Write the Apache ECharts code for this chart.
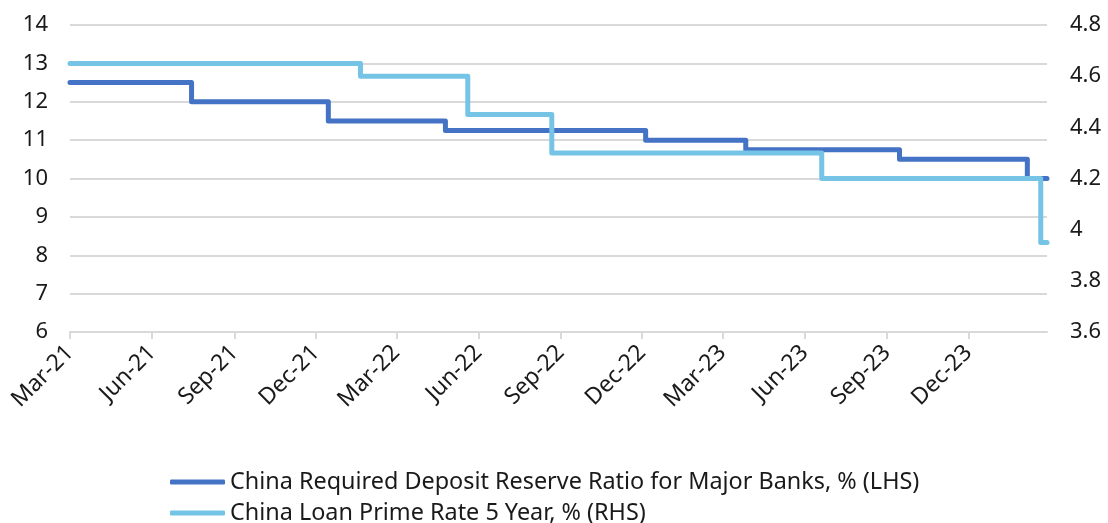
<!DOCTYPE html>
<html>
<head>
<meta charset="utf-8">
<script src="https://cdn.jsdelivr.net/npm/echarts@6/dist/echarts.min.js"></script>
<style>
html,body{margin:0;padding:0;background:#fff;}
#chart{width:1108px;height:523px;}
</style>
</head>
<body>
<div id="chart"></div>
<script>
// ---- Data ----
const rrrDates   = ['2021-03-01','2021-07-15','2021-12-15','2022-04-25','2022-12-05','2023-03-27','2023-09-15','2024-02-05','2024-02-27'];
const rrrValues  = [12.5, 12.0, 11.5, 11.25, 11.0, 10.75, 10.5, 10.0, 10.0];
const lprDates   = ['2021-03-01','2022-01-20','2022-05-20','2022-08-22','2023-06-20','2024-02-20','2024-02-27'];
const lprValues  = [4.65, 4.60, 4.45, 4.30, 4.20, 3.95, 3.95];
const tickDates  = ['2021-03-01','2021-06-01','2021-09-01','2021-12-01','2022-03-01','2022-06-01','2022-09-01','2022-12-01','2023-03-01','2023-06-01','2023-09-01','2023-12-01'];
const tickLabels = ['Mar-21','Jun-21','Sep-21','Dec-21','Mar-22','Jun-22','Sep-22','Dec-22','Mar-23','Jun-23','Sep-23','Dec-23'];
const seriesNames = ['China Required Deposit Reserve Ratio for Major Banks, % (LHS)', 'China Loan Prime Rate 5 Year, % (RHS)'];
const xStart = '2021-03-01';
const xEnd   = '2024-02-27';

// day number since epoch (UTC, timezone-independent)
function dn(s){ const p = s.split('-').map(Number); return Date.UTC(p[0], p[1]-1, p[2]) / 86400000; }
const tickDn = tickDates.map(dn);
const font = 'Noto Sans';
const textColor = '#1a1a1a';
const gridColor = '#d9d9d9';
const colors = ['#4472c4', '#75c4e6'];

function legendFor(i, top){
  return {
    orient: 'horizontal', left: 170, top: top, padding: 0,
    itemWidth: 55, itemHeight: 5, icon: 'roundRect',
    textStyle: {fontFamily: font, fontSize: 23.4, color: textColor, lineHeight: 26},
    data: [seriesNames[i]]
  };
}

const chart = echarts.init(document.getElementById('chart'), null, {renderer:'canvas'});
chart.setOption({
  animation: false,
  textStyle: {fontFamily: font},
  grid: {left: 70, right: 61, top: 25, bottom: 191, containLabel: false},
  xAxis: {
    type: 'value',
    min: dn(xStart), max: dn(xEnd),
    axisLine: {show: true, lineStyle: {color: gridColor, width: 2}},
    axisTick: {show: true, customValues: tickDn, length: 7, lineStyle: {color: gridColor, width: 2}},
    axisLabel: {
      customValues: tickDn, rotate: 45, margin: 17,
      fontFamily: font, fontSize: 23, color: textColor,
      formatter: function(v){ const i = tickDn.indexOf(v); return i >= 0 ? tickLabels[i] : ''; }
    },
    splitLine: {show: false}
  },
  yAxis: [
    {type: 'value', min: 6, max: 14, interval: 1, position: 'left',
     axisLine: {show: false}, axisTick: {show: false},
     axisLabel: {fontFamily: font, fontSize: 22, color: textColor, margin: 22},
     splitLine: {show: true, lineStyle: {color: gridColor, width: 2}}},
    {type: 'value', min: 3.6, max: 4.8, interval: 0.2, position: 'right',
     axisLine: {show: false}, axisTick: {show: false},
     axisLabel: {fontFamily: font, fontSize: 22, color: textColor, margin: 23,
       formatter: function(v){ return String(Math.round(v*10)/10); }},
     splitLine: {show: false}}
  ],
  legend: [legendFor(0, 469), legendFor(1, 500)],
  series: [
    {name: seriesNames[0], type: 'line', yAxisIndex: 0, step: 'end', showSymbol: false, symbol: 'none',
     color: colors[0],
     lineStyle: {width: 5, color: colors[0], cap: 'round', join: 'round'},
     data: rrrDates.map((d,i) => [dn(d), rrrValues[i]]), z: 2},
    {name: seriesNames[1], type: 'line', yAxisIndex: 1, step: 'end', showSymbol: false, symbol: 'none',
     color: colors[1],
     lineStyle: {width: 5, color: colors[1], cap: 'round', join: 'round'},
     data: lprDates.map((d,i) => [dn(d), lprValues[i]]), z: 3}
  ]
});
</script>
</body>
</html>
